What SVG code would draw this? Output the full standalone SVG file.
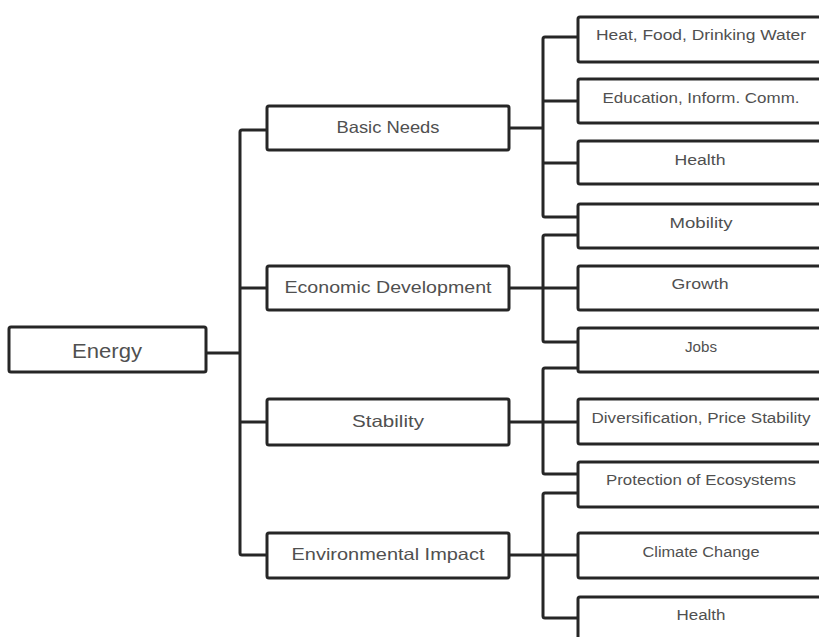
<svg xmlns="http://www.w3.org/2000/svg" width="819" height="637" viewBox="0 0 819 637">
<style>
.box{fill:#fff;stroke:#262626;stroke-width:3;}
.c{fill:none;stroke:#262626;stroke-width:3;stroke-linejoin:round;stroke-linecap:butt;}
text{font-family:"Liberation Sans",Arial,sans-serif;fill:#505050;text-anchor:middle;}
.l1{font-size:20px;}
.l2{font-size:16.5px;}
.l3{font-size:14px;}
</style>
<rect width="819" height="637" fill="#fff"/>
<g id="connectors">
<path class="c" d="M206,353H240"/>
<path class="c" d="M267,130H242Q240,130 240,132V553Q240,555 242,555H267"/>
<path class="c" d="M240,288H267M240,422H267"/>
<path class="c" d="M509,128H543"/>
<path class="c" d="M578,37H545Q543,37 543,39V215Q543,217 545,217H578M543,101H578M543,163H578"/>
<path class="c" d="M509,288H543"/>
<path class="c" d="M578,235H545Q543,235 543,237V340Q543,342 545,342H578M543,288H578"/>
<path class="c" d="M509,422H543"/>
<path class="c" d="M578,368H545Q543,368 543,370V472Q543,474 545,474H578M543,422H578"/>
<path class="c" d="M509,555H543"/>
<path class="c" d="M578,493H545Q543,493 543,495V616Q543,618 545,618H578M543,555H578"/>
</g>
<g id="energy"><rect class="box" x="9" y="327" width="197" height="45" rx="2"/><text class="l1" x="107" y="358" textLength="70" lengthAdjust="spacingAndGlyphs">Energy</text></g>
<g id="basic-needs"><rect class="box" x="267" y="106" width="242" height="44" rx="2"/><text class="l2" x="388" y="133" textLength="103" lengthAdjust="spacingAndGlyphs">Basic Needs</text></g>
<g id="economic-development"><rect class="box" x="267" y="266" width="242" height="44" rx="2"/><text class="l2" x="388" y="293" textLength="207" lengthAdjust="spacingAndGlyphs">Economic Development</text></g>
<g id="stability"><rect class="box" x="267" y="399" width="242" height="46" rx="2"/><text class="l2" x="388" y="427" textLength="72" lengthAdjust="spacingAndGlyphs">Stability</text></g>
<g id="environmental-impact"><rect class="box" x="267" y="533" width="242" height="45" rx="2"/><text class="l2" x="388" y="560" textLength="193" lengthAdjust="spacingAndGlyphs">Environmental Impact</text></g>
<g id="heat-food-water"><rect class="box" x="578" y="17" width="260" height="45" rx="2"/><text class="l3" x="701" y="40" textLength="210" lengthAdjust="spacingAndGlyphs">Heat, Food, Drinking  Water</text></g>
<g id="education"><rect class="box" x="578" y="79" width="260" height="44" rx="2"/><text class="l3" x="701" y="103" textLength="197" lengthAdjust="spacingAndGlyphs">Education, Inform. Comm.</text></g>
<g id="health-1"><rect class="box" x="578" y="141" width="260" height="43" rx="2"/><text class="l3" x="700" y="165" textLength="51" lengthAdjust="spacingAndGlyphs">Health</text></g>
<g id="mobility"><rect class="box" x="578" y="204" width="260" height="44" rx="2"/><text class="l3" x="701" y="228" textLength="63" lengthAdjust="spacingAndGlyphs">Mobility</text></g>
<g id="growth"><rect class="box" x="578" y="266" width="260" height="44" rx="2"/><text class="l3" x="700" y="289" textLength="57" lengthAdjust="spacingAndGlyphs">Growth</text></g>
<g id="jobs"><rect class="box" x="578" y="328" width="260" height="44" rx="2"/><text class="l3" x="701" y="352" textLength="32" lengthAdjust="spacingAndGlyphs">Jobs</text></g>
<g id="diversification"><rect class="box" x="578" y="399" width="260" height="45" rx="2"/><text class="l3" x="701" y="423" textLength="219" lengthAdjust="spacingAndGlyphs">Diversification, Price Stability</text></g>
<g id="protection"><rect class="box" x="578" y="462" width="260" height="45" rx="2"/><text class="l3" x="701" y="485" textLength="190" lengthAdjust="spacingAndGlyphs">Protection of Ecosystems</text></g>
<g id="climate-change"><rect class="box" x="578" y="533" width="260" height="45" rx="2"/><text class="l3" x="701" y="557" textLength="117" lengthAdjust="spacingAndGlyphs">Climate Change</text></g>
<g id="health-2"><rect class="box" x="578" y="597" width="260" height="50" rx="2"/><text class="l3" x="701" y="620" textLength="49" lengthAdjust="spacingAndGlyphs">Health</text></g>
</svg>
